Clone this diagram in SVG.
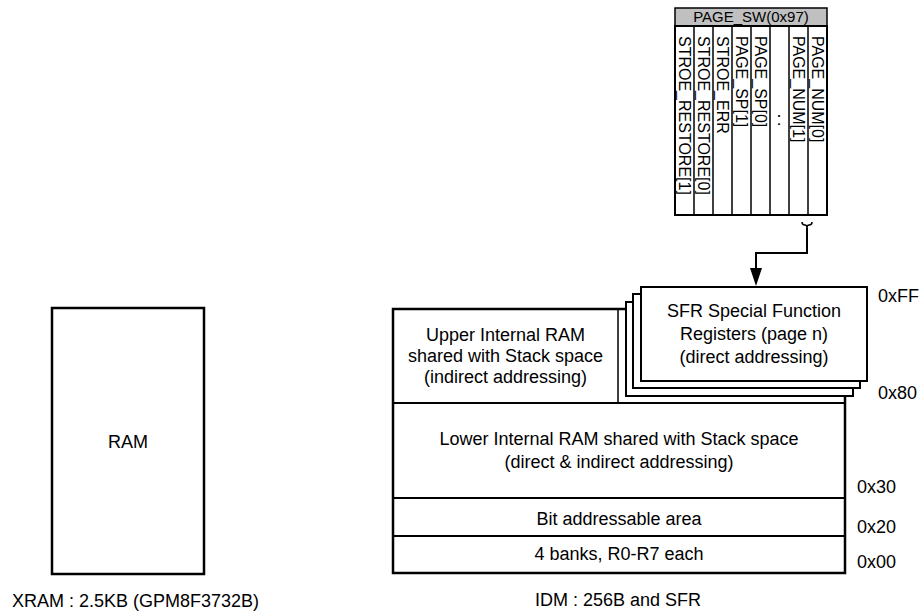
<svg xmlns="http://www.w3.org/2000/svg" width="922" height="615" viewBox="0 0 922 615">
<defs>
<style>
text{font-family:"Liberation Sans",Arial,sans-serif;font-size:18px;fill:#000}
.c{text-anchor:middle}
.v{font-size:16px}
.h{font-size:15px}
.box{fill:#fff;stroke:#000;stroke-width:2}
.thick{fill:#fff;stroke:#000;stroke-width:2.5}
.ln{stroke:#000;stroke-width:2;fill:none}
.thin{stroke:#000;stroke-width:1.5;fill:none}
</style>
<marker id="arr" markerWidth="12" markerHeight="18" refX="6" refY="18" orient="auto" markerUnits="userSpaceOnUse" viewBox="0 0 12 18">
<path d="M0,0 L12,0 L6,18 Z" fill="#000" transform="rotate(-90 6 9)"/>
</marker>
</defs>
<rect width="922" height="615" fill="#fff"/>

<g id="xram">
<rect class="thick" x="52" y="308" width="152" height="266"/>
<text class="c" x="128" y="448">RAM</text>
<text x="12" y="607">XRAM : 2.5KB (GPM8F3732B)</text>
</g>

<g id="idm">
<rect class="thick" x="393" y="309" width="452" height="264"/>
<line class="thin" x1="618" y1="309" x2="618" y2="403"/>
<line class="ln" x1="393" y1="403" x2="845" y2="403"/>
<line class="ln" x1="393" y1="498" x2="845" y2="498"/>
<line class="ln" x1="393" y1="536" x2="845" y2="536"/>
<text class="c" x="505.5" y="341">Upper Internal RAM</text>
<text class="c" x="505.5" y="362">shared with Stack space</text>
<text class="c" x="505.5" y="383">(indirect addressing)</text>
<text class="c" x="619" y="445">Lower Internal RAM shared with Stack space</text>
<text class="c" x="619" y="468">(direct &amp; indirect addressing)</text>
<text class="c" x="619" y="525">Bit addressable area</text>
<text class="c" x="619" y="560">4 banks, R0-R7 each</text>
<text class="c" x="618" y="606">IDM : 256B and SFR</text>
</g>

<g id="sfr">
<rect class="box" x="626" y="302" width="227" height="94"/>
<rect class="box" x="633" y="294" width="227" height="94"/>
<rect class="box" x="641" y="287" width="226" height="94"/>
<text class="c" x="754" y="317">SFR Special Function</text>
<text class="c" x="754" y="340">Registers (page n)</text>
<text class="c" x="754" y="363">(direct addressing)</text>
</g>

<g id="addresses">
<text x="878" y="302">0xFF</text>
<text x="878" y="399">0x80</text>
<text x="857" y="493">0x30</text>
<text x="857" y="533">0x20</text>
<text x="857" y="568">0x00</text>
</g>

<g id="page_sw">
<rect x="675" y="8" width="152" height="18" fill="#c0c0c0" stroke="#000" stroke-width="1.5"/>
<text class="c h" x="751" y="22">PAGE_SW(0x97)</text>
<rect x="675" y="26" width="152" height="189" fill="#fff" stroke="#000" stroke-width="2"/>
<g class="thin">
<line x1="694" y1="26" x2="694" y2="215"/>
<line x1="713" y1="26" x2="713" y2="215"/>
<line x1="732" y1="26" x2="732" y2="215"/>
<line x1="751" y1="26" x2="751" y2="215"/>
<line x1="770" y1="26" x2="770" y2="215"/>
<line x1="789" y1="26" x2="789" y2="215"/>
<line x1="808" y1="26" x2="808" y2="215"/>
</g>
<text class="v" transform="translate(679 36) rotate(90)">STROE_RESTORE[1]</text>
<text class="v" transform="translate(698 36) rotate(90)">STROE_RESTORE[0]</text>
<text class="v" transform="translate(717 36) rotate(90)">STROE_ERR</text>
<text class="v" transform="translate(736 36) rotate(90)">PAGE_SP[1]</text>
<text class="v" transform="translate(755 36) rotate(90)">PAGE_SP[0]</text>
<text class="c" x="779" y="125" font-size="13">:</text>
<text class="v" transform="translate(793 36) rotate(90)">PAGE_NUM[1]</text>
<text class="v" transform="translate(812 36) rotate(90)">PAGE_NUM[0]</text>
</g>

<g id="connectors">
<path class="thin" d="M802,222 Q802,225 805,225 Q807,225 807,228 Q807,225 809,225 Q812,225 812,222"/>
<path class="ln" d="M807,228 V253 H756 V268"/>
<path d="M750,268 L762,268 L756,286 Z" fill="#000"/>
</g>
</svg>
